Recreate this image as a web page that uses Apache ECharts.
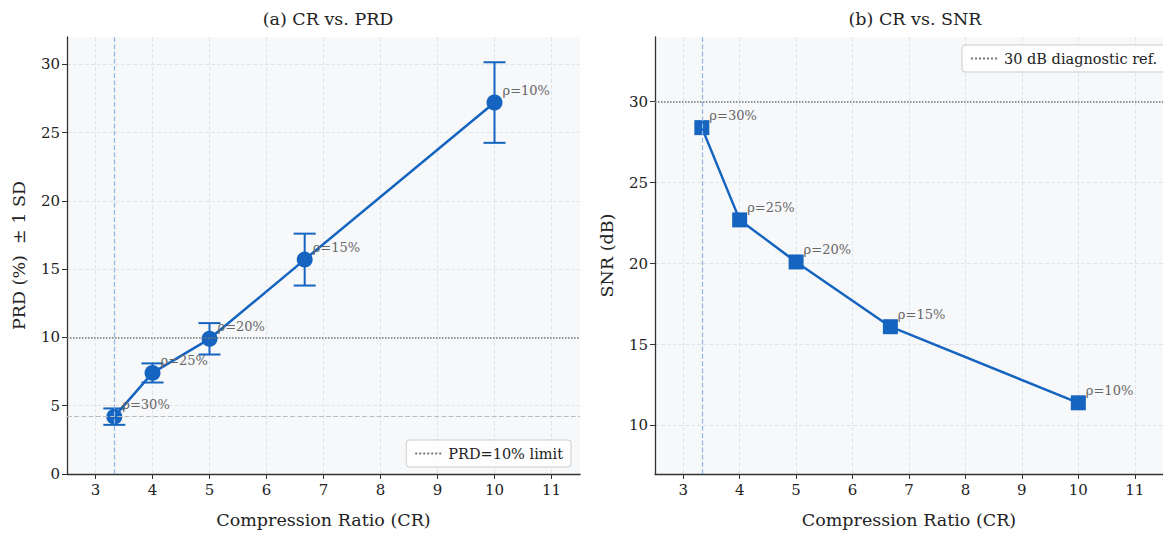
<!DOCTYPE html>
<html>
<head>
<meta charset="utf-8">
<script src="https://cdn.jsdelivr.net/npm/echarts@6/dist/echarts.min.js"></script>
<style>
  html, body { margin: 0; padding: 0; background: #fff; }
  #chart { width: 1163px; height: 534px; }
</style>
</head>
<body>
<div id="chart"></div>
<script>
// data
var cr = [3.33, 4, 5, 6.67, 10];
var rhoLabels = ['ρ=30%', 'ρ=25%', 'ρ=20%', 'ρ=15%', 'ρ=10%'];
var prd = [4.2, 7.4, 9.9, 15.7, 27.2];
var prdSd = [0.6, 0.7, 1.15, 1.9, 2.95];
var snr = [28.4, 22.7, 20.1, 16.1, 11.4];
var prdLimit = 10;
var snrRef = 30;
var minCr = 3.33;
var prdAtMinCr = 4.2;

// tick labels
var crTicks = [3, 4, 5, 6, 7, 8, 9, 10, 11];
var prdTicks = [0, 5, 10, 15, 20, 25, 30];
var snrTicks = [10, 15, 20, 25, 30];

var blue = '#1565c0';
var font = '"DejaVu Serif", serif';
var rule = '#333';
var gridLine = '#e2e4e8';

var chart = echarts.init(document.getElementById('chart'), null, { renderer: 'svg' });

function pts(ys) {
  return cr.map(function(x, i) { return [x, ys[i], rhoLabels[i]]; });
}

function xAxis(idx) {
  return {
    type: 'value', gridIndex: idx,
    min: 2.5, max: 11.5,
    name: 'Compression Ratio (CR)', nameLocation: 'middle', nameGap: 37,
    nameTextStyle: { fontFamily: font, fontSize: 17.5, color: '#222' },
    axisLine: { lineStyle: { color: rule, width: 1.3 } },
    axisTick: { lineStyle: { color: rule }, length: 5, customValues: crTicks },
    axisLabel: { fontFamily: font, fontSize: 15, color: '#222', margin: 8, customValues: crTicks },
    splitLine: { show: true, lineStyle: { color: gridLine, type: 'dashed' } }
  };
}

function yAxis(idx, min, max, ticks, name) {
  return {
    type: 'value', gridIndex: idx,
    min: min, max: max,
    name: name, nameLocation: 'middle', nameGap: 39,
    nameTextStyle: { fontFamily: font, fontSize: 17.5, color: '#222' },
    axisLine: { show: true, lineStyle: { color: rule, width: 1.3 } },
    axisTick: { show: true, lineStyle: { color: rule }, length: 5, customValues: ticks },
    axisLabel: { fontFamily: font, fontSize: 15, color: '#222', margin: 7, customValues: ticks },
    splitLine: { show: true, lineStyle: { color: gridLine, type: 'dashed' } }
  };
}

var pointLabel = {
  show: true, position: 'right', distance: 0, offset: [0, -12],
  formatter: function(p) { return p.data[2]; },
  fontFamily: font, fontSize: 13, color: '#666'
};

var legendBase = {
  orient: 'vertical',
  backgroundColor: 'rgba(255,255,255,0.8)', borderColor: '#ccc', borderWidth: 1, borderRadius: 3,
  padding: [6, 8], itemWidth: 28, itemHeight: 10,
  itemStyle: { opacity: 0 },
  textStyle: { fontFamily: font, fontSize: 14.5, color: '#222' }
};

chart.setOption({
  animation: false,
  title: [
    { text: '(a) CR vs. PRD', left: 323, top: 5, textAlign: 'center',
      textStyle: { fontFamily: font, fontSize: 17.5, fontWeight: 'normal', color: '#222' } },
    { text: '(b) CR vs. SNR', left: 910, top: 5, textAlign: 'center',
      textStyle: { fontFamily: font, fontSize: 17.5, fontWeight: 'normal', color: '#222' } }
  ],
  legend: [
    Object.assign({ data: ['PRD=10% limit'], right: 592, bottom: 67 }, legendBase),
    Object.assign({ data: ['30 dB diagnostic ref.'], left: 962, top: 45 }, legendBase)
  ],
  grid: [
    { left: 67, top: 37, width: 513, height: 439, show: true, backgroundColor: '#f7f8fa', borderWidth: 0 },
    { left: 655, top: 37, width: 513, height: 439, show: true, backgroundColor: '#f7f8fa', borderWidth: 0 }
  ],
  xAxis: [xAxis(0), xAxis(1)],
  yAxis: [yAxis(0, 0, 32, prdTicks, 'PRD (%)  ± 1 SD'), yAxis(1, 7, 34, snrTicks, 'SNR (dB)')],
  series: [
    {
      name: 'PRD=10% limit', type: 'line', xAxisIndex: 0, yAxisIndex: 0, data: [],
      symbol: 'none', itemStyle: { color: '#777' },
      lineStyle: { color: '#777', type: 'dotted', width: 1.5 },
      markLine: {
        silent: true, symbol: 'none', label: { show: false },
        data: [
          { yAxis: prdLimit, lineStyle: { color: '#777', type: 'dotted', width: 1.5 } },
          { yAxis: prdAtMinCr, lineStyle: { color: '#bbb', type: 'dashed', width: 1.2 } },
          { xAxis: minCr, lineStyle: { color: '#8fb6e6', type: 'dashed', width: 1.2 } }
        ]
      }
    },
    {
      name: 'prd-err', type: 'custom', xAxisIndex: 0, yAxisIndex: 0,
      data: cr.map(function(x, i) { return [x, prd[i] - prdSd[i], prd[i] + prdSd[i]]; }),
      renderItem: function(params, api) {
        var lo = api.coord([api.value(0), api.value(1)]);
        var hi = api.coord([api.value(0), api.value(2)]);
        var w = 11;
        var st = { stroke: blue, lineWidth: 2 };
        return {
          type: 'group',
          children: [
            { type: 'line', shape: { x1: lo[0], y1: lo[1], x2: hi[0], y2: hi[1] }, style: st },
            { type: 'line', shape: { x1: lo[0] - w, y1: lo[1], x2: lo[0] + w, y2: lo[1] }, style: st },
            { type: 'line', shape: { x1: hi[0] - w, y1: hi[1], x2: hi[0] + w, y2: hi[1] }, style: st }
          ]
        };
      },
      z: 3
    },
    {
      name: 'PRD', type: 'line', xAxisIndex: 0, yAxisIndex: 0, data: pts(prd),
      symbol: 'circle', symbolSize: 16, itemStyle: { color: blue },
      lineStyle: { color: blue, width: 2.5 }, label: pointLabel, z: 4
    },
    {
      name: '30 dB diagnostic ref.', type: 'line', xAxisIndex: 1, yAxisIndex: 1, data: [],
      symbol: 'none', itemStyle: { color: '#777' },
      lineStyle: { color: '#777', type: 'dotted', width: 1.5 },
      markLine: {
        silent: true, symbol: 'none', label: { show: false },
        data: [
          { yAxis: snrRef, lineStyle: { color: '#777', type: 'dotted', width: 1.5 } },
          { xAxis: minCr, lineStyle: { color: '#8fb6e6', type: 'dashed', width: 1.2 } }
        ]
      }
    },
    {
      name: 'SNR', type: 'line', xAxisIndex: 1, yAxisIndex: 1, data: pts(snr),
      symbol: 'rect', symbolSize: 15, itemStyle: { color: blue },
      lineStyle: { color: blue, width: 2.5 }, label: pointLabel, z: 4
    }
  ]
});
</script>
</body>
</html>
